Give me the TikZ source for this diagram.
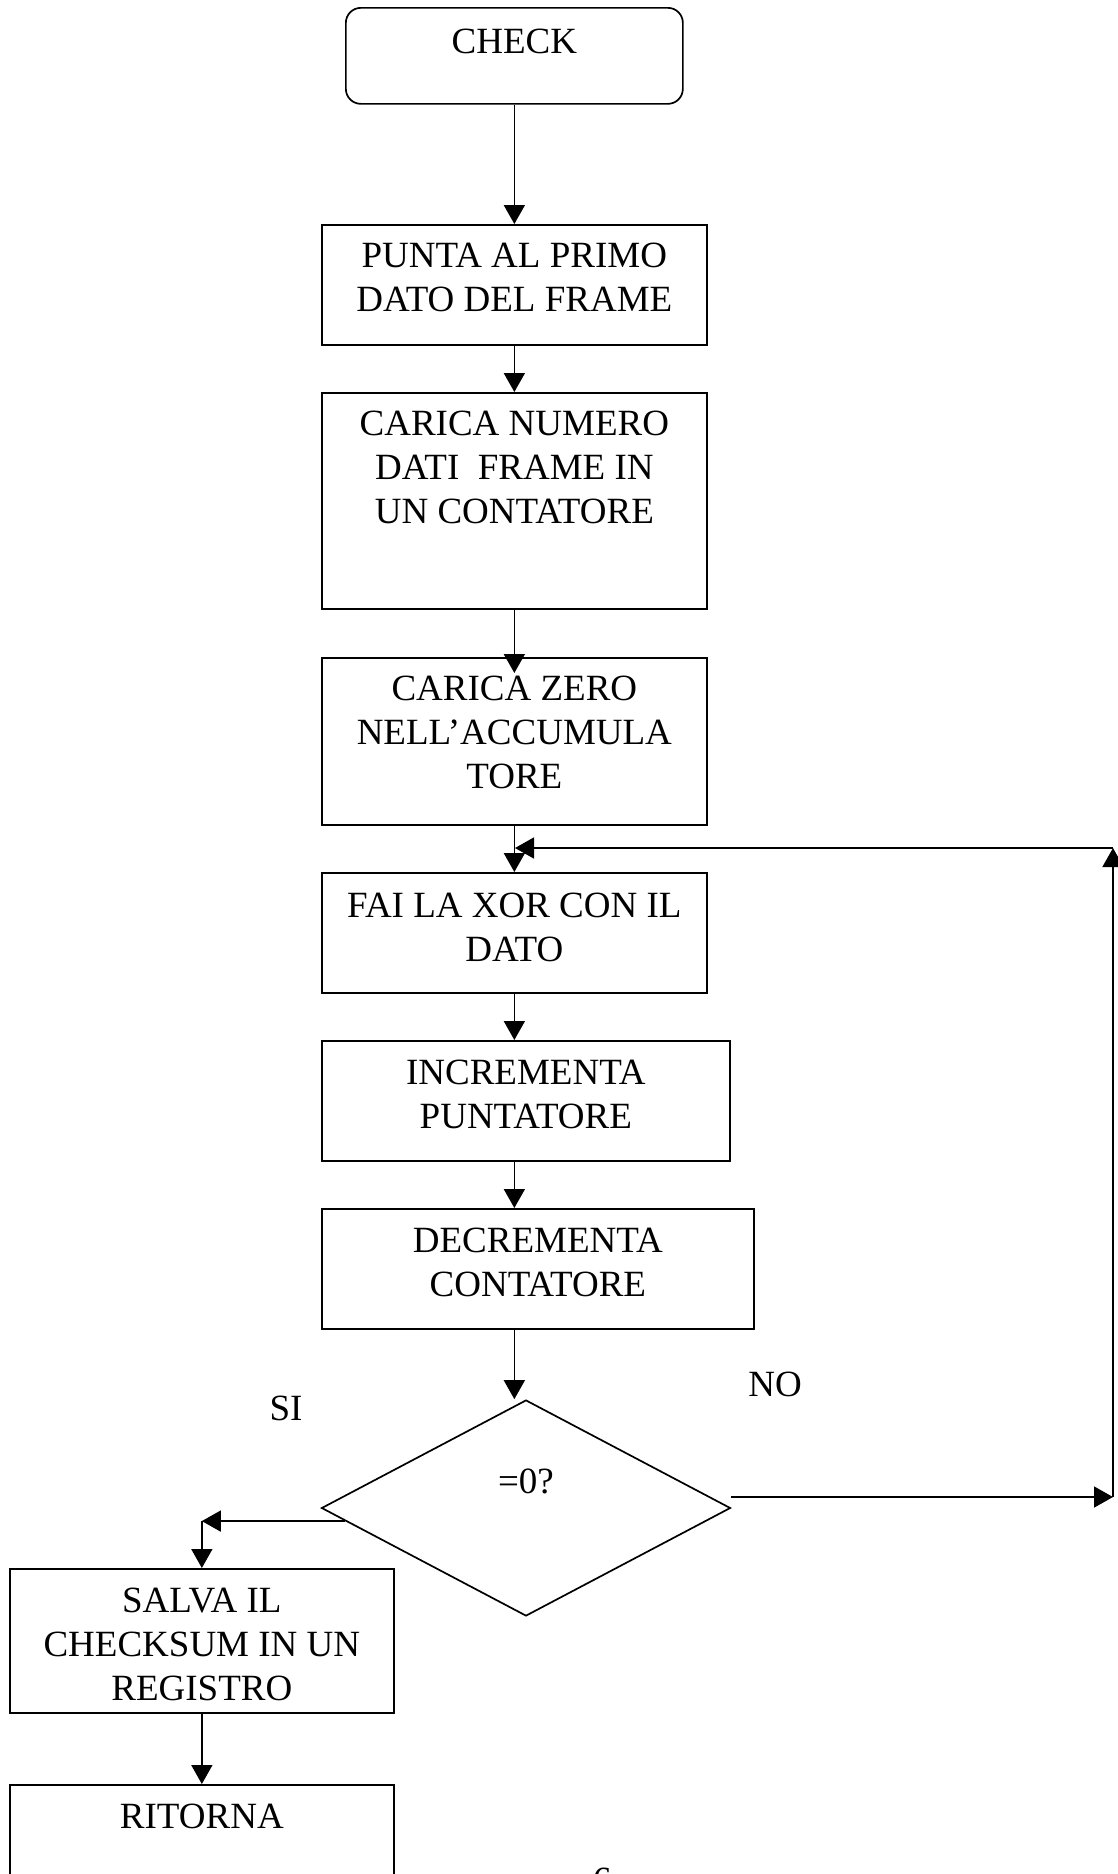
\documentclass[tikz,border=0pt]{standalone}
\usepackage{fontspec}
\setmainfont{Liberation Serif}
\usetikzlibrary{arrows.meta,shapes.geometric,calc}
\newcommand{\bxt}[4]{\parbox[c][#2][t]{#1}{\fontsize{37}{44}\selectfont\centering\rule{0pt}{#3}#4}}
\begin{document}
\begin{tikzpicture}[x=1pt,y=-1pt,
  every node/.style={font=\fontsize{37}{44}\selectfont},
  box/.style={draw, line width=1.7pt, inner sep=0pt, anchor=north west},
  arr/.style={line width=1.7pt, -{Triangle[length=19pt,width=21pt]}},
]
\useasboundingbox (0,0) rectangle (1117,1874);
% boxes
\node[box, rounded corners=15pt] (check) at (345,7) {\bxt{337pt}{96pt}{46pt}{CHECK}};
\node[box] (b2) at (321,224) {\bxt{385pt}{120pt}{43pt}{PUNTA AL PRIMO\\DATO DEL FRAME}};
\node[box] (b3) at (321,392) {\bxt{385pt}{216pt}{43pt}{CARICA NUMERO\\DATI\ \ FRAME IN\\UN CONTATORE}};
\node[box] (b4) at (321,657) {\bxt{385pt}{167pt}{43pt}{CARICA ZERO\\NELL’ACCUMULA\\TORE}};
\node[box] (b5) at (321,872) {\bxt{385pt}{120pt}{45pt}{FAI LA XOR CON IL\\DATO}};
\node[box] (b6) at (321,1040) {\bxt{408pt}{120pt}{44pt}{INCREMENTA\\PUNTATORE}};
\node[box] (b7) at (321,1208) {\bxt{432pt}{120pt}{44pt}{DECREMENTA\\CONTATORE}};
\node[shape=diamond, draw, line width=1.7pt, minimum width=409pt, minimum height=216pt, inner sep=0pt, text height=25pt, text depth=55pt] (dia) at (526,1508) {=0?};
\node[box] (b8) at (9,1568) {\bxt{384pt}{144pt}{44pt}{SALVA IL\\CHECKSUM IN UN\\REGISTRO}};
\node[box] (b9) at (9,1784) {\bxt{384pt}{130pt}{44pt}{RITORNA}};
% labels
\node[anchor=base] (si) at (286,1420) {SI};
\node[anchor=base] (no) at (775,1396) {NO};
\node[anchor=north, inner sep=0pt] (pg) at (602,1868) {6};
% connectors
\draw[arr] (check.south) -- (b2.north);
\draw[arr] (b2.south) -- (b3.north);
\draw[arr, shorten >=-16pt] (b3.south) -- (b4.north);
\draw[arr] (b4.south) -- (b5.north);
\draw[arr] (b5.south) -- (b5.south |- b6.north);
\draw[arr] (b5.south |- b6.south) -- (b5.south |- b7.north);
\draw[arr] (b5.south |- b7.south) -- (b5.south |- dia.north);
% NO loop
\coordinate (n1) at ($(dia.east)+(0,-11)$);
\coordinate (n2) at (1113,1497);
\coordinate (n3) at (1113,848);
\coordinate (n4) at (515,848);
\draw[arr] (n1) -- (n2);
\draw[arr] (n2) -- (n3);
\draw[arr] (n3) -- (n4);
% SI branch
\coordinate (s1) at ($(dia.west)!0.12!(dia.south)$);
\coordinate (s2) at (s1 -| b8.north);
\draw[arr] (s1) -- (s2);
\draw[arr] (s2) -- (b8.north);
\draw[arr] (b8.south) -- (b9.north);
\end{tikzpicture}
\end{document}
